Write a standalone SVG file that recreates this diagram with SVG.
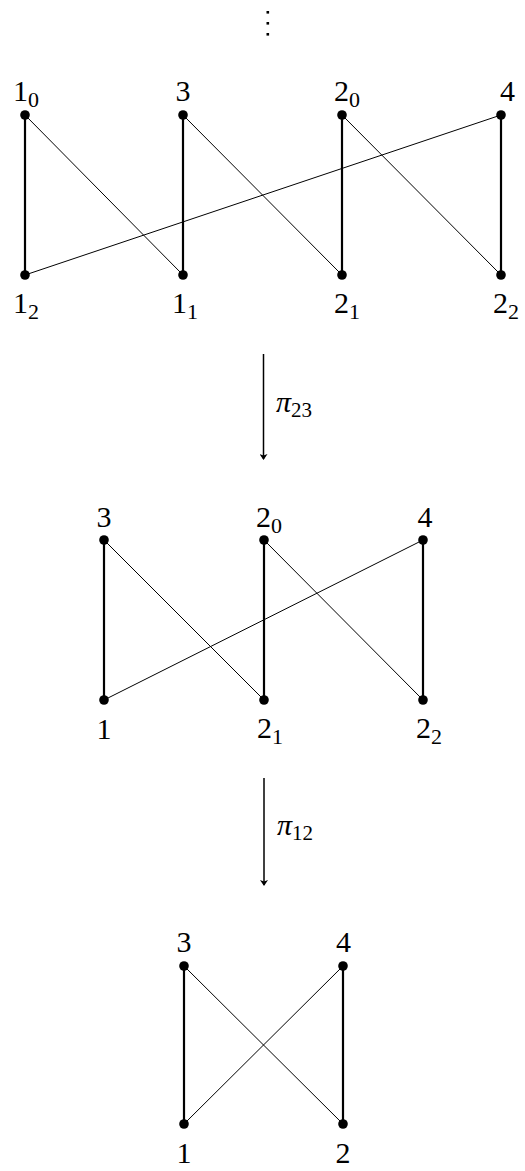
<svg xmlns="http://www.w3.org/2000/svg" width="525" height="1171" viewBox="0 0 525 1171">
<defs>
<style>
text{font-family:'Liberation Serif','Times New Roman',serif}
.lbl{font-size:30px;fill:#000}
.sub{font-size:22px}
.pi{font-size:30px;font-style:italic;fill:#000}
.pisub{font-style:normal;font-size:21px}
.thick{stroke:#000;stroke-width:2.2;fill:none}
.thin{stroke:#000;stroke-width:1;fill:none}
.arr{stroke:#000;stroke-width:1.5;fill:none}
.dot{fill:#000}
</style>
<marker id="ah" viewBox="0 0 6 8" refX="5" refY="4" markerWidth="6" markerHeight="8" markerUnits="userSpaceOnUse" orient="auto">
<path d="M0,0 L6,4 L0,8 L1.5,4 Z" fill="#000"/>
</marker>
</defs>
<rect width="525" height="1171" fill="#fff"/>

<g id="vdots">
<rect x="266.5" y="11" width="2.6" height="2.6" class="dot"/>
<rect x="266.5" y="22" width="2.6" height="2.6" class="dot"/>
<rect x="266.5" y="33" width="2.6" height="2.6" class="dot"/>
</g>

<g id="connectors">
<line class="thick" x1="25" y1="115" x2="25" y2="275"/>
<line class="thick" x1="183" y1="115" x2="183" y2="275"/>
<line class="thick" x1="342" y1="115" x2="342" y2="275"/>
<line class="thick" x1="501" y1="115" x2="501" y2="275"/>
<line class="thin" x1="25" y1="115" x2="183" y2="275"/>
<line class="thin" x1="183" y1="115" x2="342" y2="275"/>
<line class="thin" x1="342" y1="115" x2="501" y2="275"/>
<line class="thin" x1="501" y1="115" x2="25" y2="275"/>
<line class="arr" x1="263.5" y1="354" x2="263.5" y2="459" marker-end="url(#ah)"/>
<line class="thick" x1="104" y1="540" x2="104" y2="700"/>
<line class="thick" x1="264" y1="540" x2="264" y2="700"/>
<line class="thick" x1="423" y1="540" x2="423" y2="700"/>
<line class="thin" x1="104" y1="540" x2="264" y2="700"/>
<line class="thin" x1="264" y1="540" x2="423" y2="700"/>
<line class="thin" x1="423" y1="540" x2="104" y2="700"/>
<line class="arr" x1="264" y1="778" x2="264" y2="885" marker-end="url(#ah)"/>
<line class="thick" x1="184" y1="966" x2="184" y2="1124"/>
<line class="thick" x1="343" y1="966" x2="343" y2="1124"/>
<line class="thin" x1="184" y1="966" x2="343" y2="1124"/>
<line class="thin" x1="343" y1="966" x2="184" y2="1124"/>
</g>

<g id="arrow-labels">
<text class="pi" x="276" y="412">π<tspan class="pisub" dy="5">23</tspan></text>
<text class="pi" x="277" y="835">π<tspan class="pisub" dy="5">12</tspan></text>
</g>

<g id="n-1_0"><circle class="dot" cx="25" cy="115" r="4.8"/><text class="lbl" x="13" y="101">1<tspan class="sub" dy="6">0</tspan></text></g>
<g id="n-3a"><circle class="dot" cx="183" cy="115" r="4.8"/><text class="lbl" x="175.5" y="101">3</text></g>
<g id="n-2_0a"><circle class="dot" cx="342" cy="115" r="4.8"/><text class="lbl" x="334" y="101">2<tspan class="sub" dy="6">0</tspan></text></g>
<g id="n-4a"><circle class="dot" cx="501" cy="115" r="4.8"/><text class="lbl" x="500" y="101">4</text></g>
<g id="n-1_2"><circle class="dot" cx="25" cy="275" r="4.8"/><text class="lbl" x="13" y="313">1<tspan class="sub" dy="6">2</tspan></text></g>
<g id="n-1_1"><circle class="dot" cx="183" cy="275" r="4.8"/><text class="lbl" x="172" y="313">1<tspan class="sub" dy="6">1</tspan></text></g>
<g id="n-2_1a"><circle class="dot" cx="342" cy="275" r="4.8"/><text class="lbl" x="334" y="313">2<tspan class="sub" dy="6">1</tspan></text></g>
<g id="n-2_2a"><circle class="dot" cx="501" cy="275" r="4.8"/><text class="lbl" x="493" y="313">2<tspan class="sub" dy="6">2</tspan></text></g>

<g id="n-3b"><circle class="dot" cx="104" cy="540" r="4.8"/><text class="lbl" x="96.5" y="527">3</text></g>
<g id="n-2_0b"><circle class="dot" cx="264" cy="540" r="4.8"/><text class="lbl" x="256" y="527">2<tspan class="sub" dy="6">0</tspan></text></g>
<g id="n-4b"><circle class="dot" cx="423" cy="540" r="4.8"/><text class="lbl" x="417.5" y="527">4</text></g>
<g id="n-1b"><circle class="dot" cx="104" cy="700" r="4.8"/><text class="lbl" x="96.5" y="739">1</text></g>
<g id="n-2_1b"><circle class="dot" cx="264" cy="700" r="4.8"/><text class="lbl" x="257" y="738">2<tspan class="sub" dy="6">1</tspan></text></g>
<g id="n-2_2b"><circle class="dot" cx="423" cy="700" r="4.8"/><text class="lbl" x="416" y="738">2<tspan class="sub" dy="6">2</tspan></text></g>

<g id="n-3c"><circle class="dot" cx="184" cy="966" r="4.8"/><text class="lbl" x="176.5" y="952">3</text></g>
<g id="n-4c"><circle class="dot" cx="343" cy="966" r="4.8"/><text class="lbl" x="336" y="952">4</text></g>
<g id="n-1c"><circle class="dot" cx="184" cy="1124" r="4.8"/><text class="lbl" x="176.5" y="1163">1</text></g>
<g id="n-2c"><circle class="dot" cx="343" cy="1124" r="4.8"/><text class="lbl" x="335.5" y="1163">2</text></g>
</svg>
